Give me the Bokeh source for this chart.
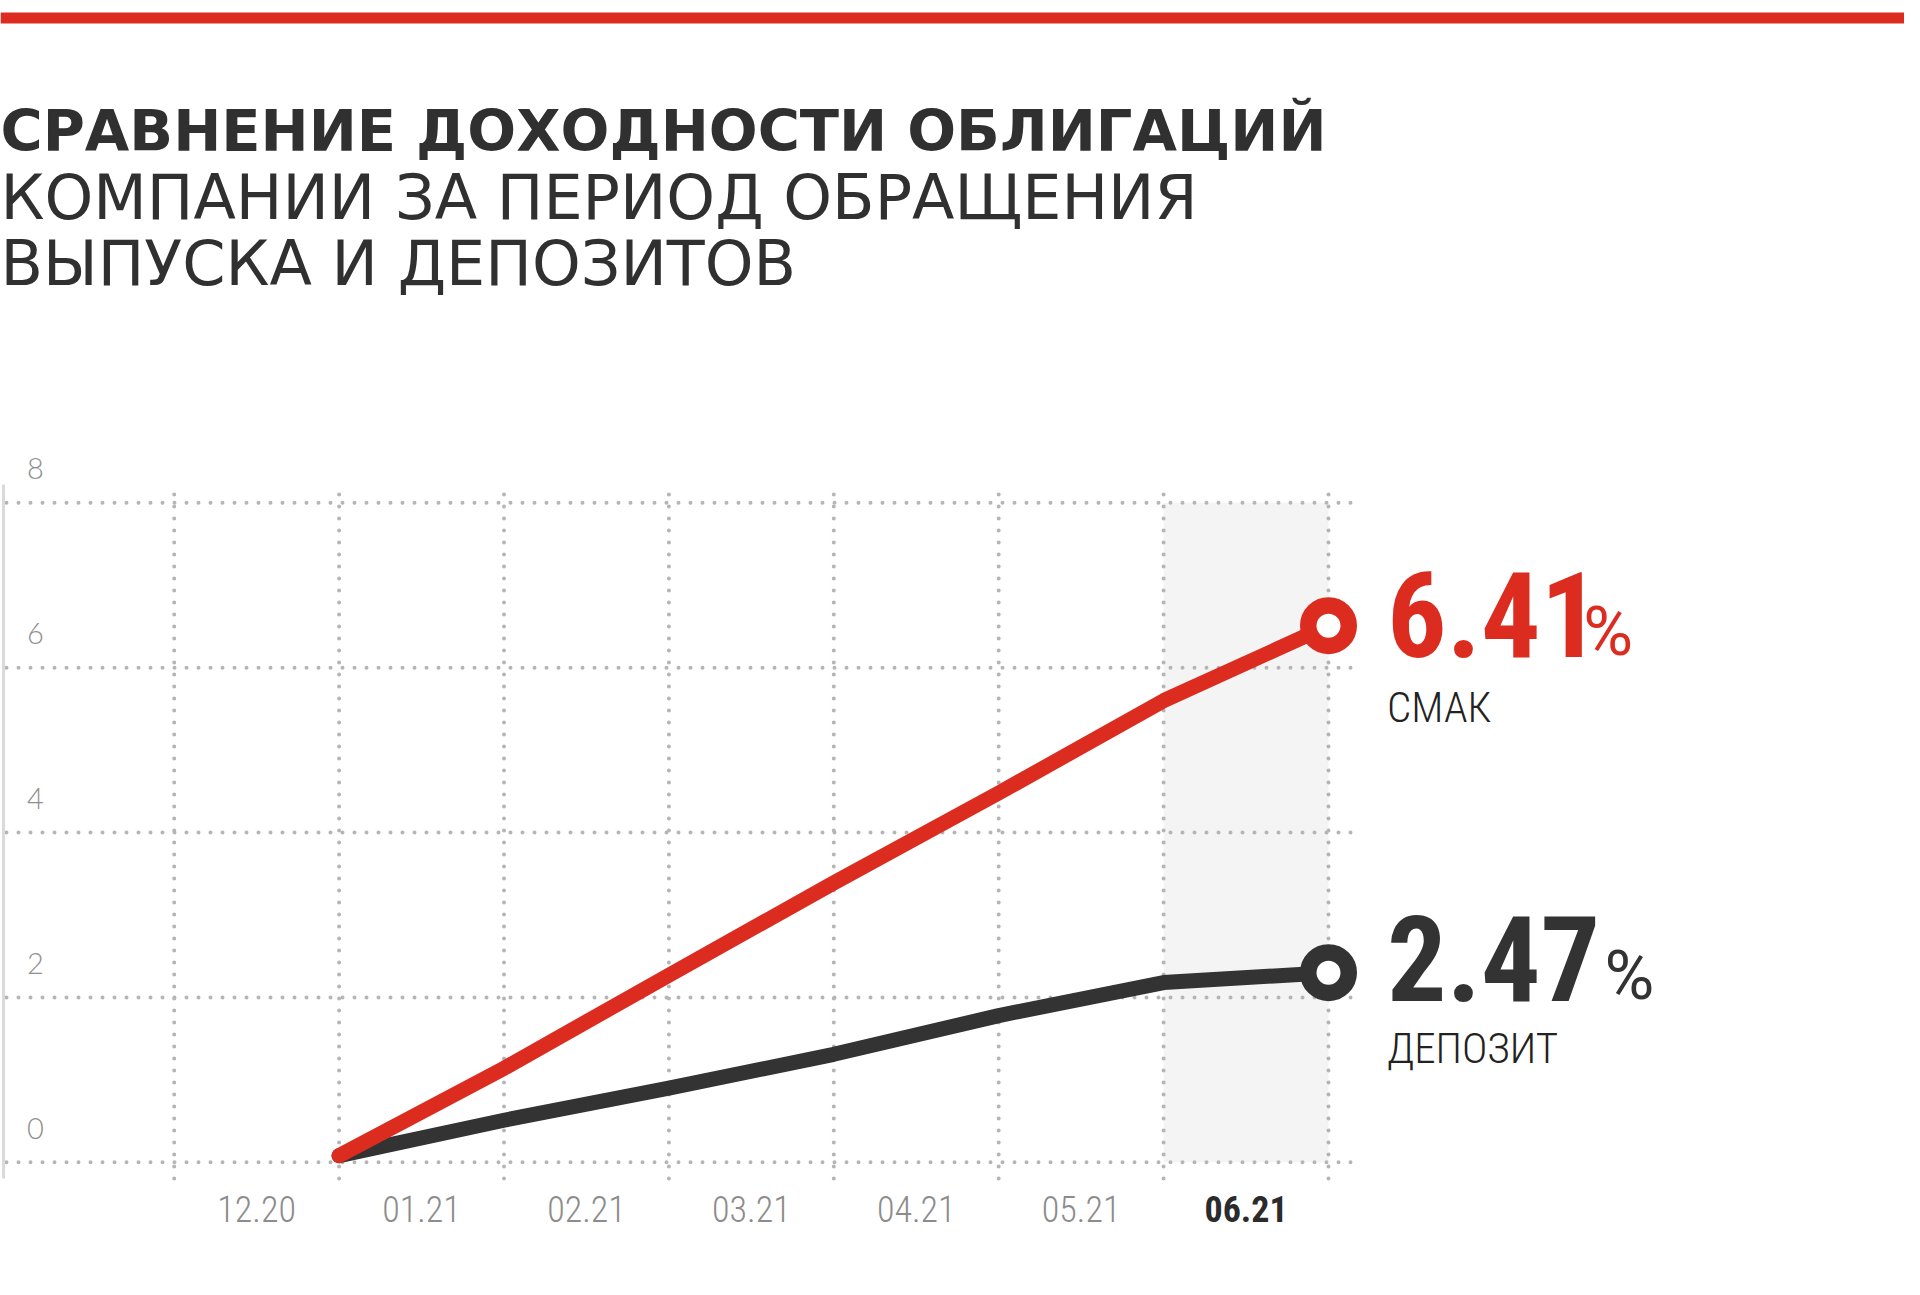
from bokeh.plotting import figure
from bokeh.models import Range1d, Label, BoxAnnotation
from bokeh.core.properties import value
from bokeh.embed import file_html
from bokeh.resources import INLINE

# ---------------- data ----------------
months = ["12.20", "01.21", "02.21", "03.21", "04.21", "05.21", "06.21"]
highlight_month = "06.21"
y_ticks = [0, 2, 4, 6, 8]
# points sit on month boundaries (gridline index)
point_x = [1, 2, 3, 4, 5, 6, 7]
smak = [0.08, 1.14, 2.27, 3.39, 4.48, 5.60, 6.51]
deposit = [0.08, 0.51, 0.90, 1.31, 1.78, 2.18, 2.30]
smak_value_label = "6.41"
deposit_value_label = "2.47"
smak_name = "СМАК"
deposit_name = "ДЕПОЗИТ"
title_lines = [
    "СРАВНЕНИЕ ДОХОДНОСТИ ОБЛИГАЦИЙ",
    "КОМПАНИИ ЗА ПЕРИОД ОБРАЩЕНИЯ",
    "ВЫПУСКА И ДЕПОЗИТОВ",
]

# ---------------- styles ----------------
RED = "#dc2c1f"
DARK = "#333333"
GRID = "#b5b5b5"
BAND = "#f4f4f4"
COND = "Roboto Condensed, sans-serif"
COND_LIGHT = "Roboto Condensed Light, Roboto Condensed, sans-serif"
PCT_FONT = "Roboto, sans-serif"
BASE_SHIFT = 0.35   # em: bokeh draws alphabetic text this much lower

W, H = 1904, 1279
X0, XU = 173.7, 164.9      # px of x=0, px per x unit
Y0, YU = 1161.8, 82.43     # px (from top) of y=0, px per y unit


def fx(px):
    return (px - X0) / XU


def fy(py):
    return (Y0 - py) / YU


def up(size_px):
    return BASE_SHIFT * size_px / YU


p = figure(
    width=W, height=H,
    x_range=Range1d(fx(0), fx(W)),
    y_range=Range1d(fy(H), fy(0)),
    x_axis_type=None, y_axis_type=None,
    toolbar_location=None, output_backend="svg",
    min_border=0, min_border_left=0, min_border_right=0,
    min_border_top=0, min_border_bottom=0,
    outline_line_color=None, title=None,
    background_fill_color="white", border_fill_color="white",
)

# top red bar
p.add_layout(BoxAnnotation(top=fy(12), bottom=fy(23), fill_color=RED,
                           fill_alpha=1, line_color=None))

# titles
title_styles = [("bold", 57.5, 151), ("normal", 62, 219), ("normal", 62, 285)]
for line, (style, size, base) in zip(title_lines, title_styles):
    p.add_layout(Label(x=fx(0), y=fy(base) + up(size), text=line,
                       text_font="DejaVu Sans", text_font_style=style,
                       text_font_size=f"{size}px", text_color="#303030",
                       text_baseline="alphabetic", text_align="left"))

# highlighted column
hi = months.index(highlight_month)
p.quad(left=[hi], right=[hi + 1], bottom=[y_ticks[0]], top=[y_ticks[-1]],
       fill_color=BAND, line_color=None)

# dotted grid
grid_x = list(range(len(months) + 1))
x_lo, x_hi = fx(6), fx(1353)
y_lo, y_hi = fy(1178), fy(484)
p.segment(x0=[x_lo] * len(y_ticks), x1=[x_hi] * len(y_ticks), y0=y_ticks, y1=y_ticks,
          line_color=GRID, line_width=4, line_dash="0 12", line_cap="round")
p.segment(x0=grid_x, x1=grid_x, y0=[y_lo] * len(grid_x), y1=[y_hi] * len(grid_x),
          line_color=GRID, line_width=4, line_dash="0 12", line_cap="round")

# left axis line
p.segment(x0=[fx(3)], x1=[fx(3)], y0=[y_lo], y1=[y_hi], line_color="#dadada", line_width=3)

# series
p.line(point_x, deposit, line_color=DARK, line_width=15, line_join="round", line_cap="round")
p.line(point_x, smak, line_color=RED, line_width=15, line_join="round", line_cap="round")
p.scatter([point_x[-1]], [deposit[-1]], marker="circle", size=40.5, fill_color="white",
          line_color=DARK, line_width=16.5)
p.scatter([point_x[-1]], [smak[-1]], marker="circle", size=40.5, fill_color="white",
          line_color=RED, line_width=16.5)

# y tick labels
p.text(x=[fx(35)] * len(y_ticks), y=[t + 0.29 + up(29) for t in y_ticks],
       text=[str(t) for t in y_ticks],
       text_align="center", text_baseline="alphabetic",
       text_font=value("Lato Light, Lato, sans-serif"), text_font_size="29px",
       text_color="#8f8f8f")

# x tick labels
xl_y = fy(1221) + up(36)
norm_idx = [i for i, m in enumerate(months) if m != highlight_month]
p.text(x=[i + 0.5 for i in norm_idx], y=[xl_y] * len(norm_idx),
       text=[months[i] for i in norm_idx], text_align="center", text_baseline="alphabetic",
       text_font=value(COND_LIGHT), text_font_size="36px", text_color="#8c8c8c")
p.text(x=[hi + 0.5], y=[xl_y], text=[highlight_month], text_align="center",
       text_baseline="alphabetic", text_font=value(COND), text_font_style="bold",
       text_font_size="36px", text_color="#2b2b2b")

# end labels
lab_x = point_x[-1] + 0.355
NUM, PCT, NAME = 118, 68, 43
for val, lab, name, col, dy, pct_dx, name_dy in [
    (smak[-1], smak_value_label, smak_name, RED, -0.37, 1.545, -0.80),
    (deposit[-1], deposit_value_label, deposit_name, DARK, -0.33, 1.673, -0.76),
]:
    base = val + dy
    p.text(x=[lab_x], y=[base + up(NUM)], text=[lab], text_font=value(COND),
           text_font_style="bold", text_font_size=f"{NUM}px", text_color=col,
           text_baseline="alphabetic")
    p.text(x=[point_x[-1] + pct_dx], y=[base + up(PCT)], text=["%"], text_font=value(PCT_FONT),
           text_font_size=f"{PCT}px", text_color=col, text_baseline="alphabetic")
    p.text(x=[lab_x], y=[base + name_dy + up(NAME)], text=[name], text_font=value(COND_LIGHT),
           text_font_size=f"{NAME}px", text_color="#222222", text_baseline="alphabetic")

open("out.html", "w").write(file_html(p, INLINE))
